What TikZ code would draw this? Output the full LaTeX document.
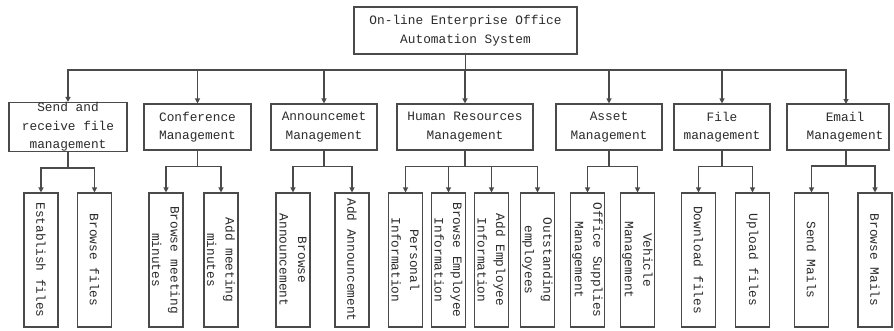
\documentclass[tikz,border=0pt]{standalone}
\usepackage{fontspec}
\setmainfont{Liberation Mono}
\usetikzlibrary{arrows.meta}
\definecolor{ink}{HTML}{2A2A2A}
\definecolor{edge}{HTML}{4A4A4A}
\begin{document}
\begin{tikzpicture}[x=1pt,y=-1pt,
  box/.style={draw=edge, line width=1.1pt, text=ink, align=center, inner sep=0pt,
    font=\fontsize{12.8}{18.5}\selectfont},
  topbox/.style={box, minimum height=46pt},
  leaf/.style={box, rotate=-90, minimum width=134pt, minimum height=34pt},
  conn/.style={draw=edge, line width=1.1pt},
  arr/.style={conn, -{Triangle[length=5pt,width=5pt]}}]
\useasboundingbox (0,0) rectangle (894,330);

% root
\node[box, minimum width=223pt, minimum height=47pt] (root) at (465.5,30.5)
  {On-line Enterprise Office\\Automation System};

% level 1
\node[topbox, minimum width=118pt] (a) at (68,127) {Send and\\receive file\\management};
\node[topbox, minimum width=107pt] (b) at (197.5,127) {Conference\\Management};
\node[topbox, minimum width=106pt] (c) at (324,127) {Announcemet\\Management};
\node[topbox, minimum width=136pt] (d) at (465,127) {Human Resources\\Management};
\node[topbox, minimum width=106pt] (e) at (609,127) {Asset\\Management};
\node[topbox, minimum width=96pt] (f) at (722,127) {File\\management};
\node[topbox, minimum width=102pt] (g) at (838,127) {\hspace*{14pt}Email\\\hspace*{14pt}Management};

% level 2
\node[leaf] (a1) at (41,260) {Establish files};
\node[leaf] (a2) at (94.5,260) {Browse files};
\node[leaf] (b1) at (166,260) {Browse meeting\\minutes};
\node[leaf] (b2) at (221,260) {Add meeting\\minutes};
\node[leaf] (c1) at (293,260) {Browse\\Announcement};
\node[leaf] (c2) at (352,260) {Add Announcement};
\node[leaf] (d1) at (405.5,260) {Personal\\Information};
\node[leaf] (d2) at (448.5,260) {Browse Employee\\Information};
\node[leaf] (d3) at (491.5,260) {Add Employee\\Information};
\node[leaf] (d4) at (537.5,260) {Outstanding\\employees};
\node[leaf] (e1) at (587.5,260) {Office Supplies\\Management};
\node[leaf] (e2) at (637.5,260) {Vehicle\\Management};
\node[leaf] (f1) at (698.5,260) {Download files};
\node[leaf] (f2) at (752.5,260) {Upload files};
\node[leaf] (g1) at (811.5,260) {Send Mails};
\node[leaf] (g2) at (875,260) {Browse Mails};

% helper coordinates
\coordinate (bus) at (465.5,70);
\coordinate (gtop) at (846,104);
\coordinate (gbot) at (846,150);

% root to level 1
\draw[conn] (root.south) -- (bus);
\foreach \n in {a,b,c,d,e,f} {
  \draw[arr] (bus) -| (\n.north);
}
\draw[arr] (bus) -| (gtop);

% level 1 to level 2
\foreach \p/\k in {a/a1,a/a2,b/b1,b/b2,c/c1,c/c2,d/d1,d/d2,d/d3,d/d4,e/e1,e/e2,f/f1,f/f2} {
  \draw[arr] (\p.south) -- ++(0,16) -| (\k);
}
\foreach \k in {g1,g2} {
  \draw[arr] (gbot) -- ++(0,16) -| (\k);
}
\end{tikzpicture}
\end{document}
